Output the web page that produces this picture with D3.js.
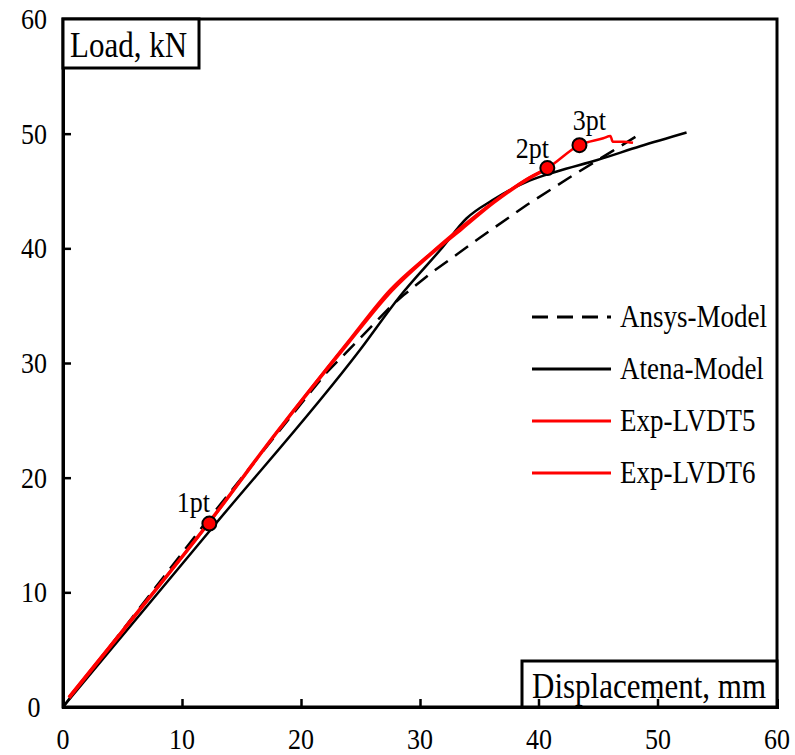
<!DOCTYPE html>
<html>
<head>
<meta charset="utf-8">
<script src="https://cdn.jsdelivr.net/npm/d3@7"></script>
<style>
  body { margin: 0; background: #fff; }
  svg text { font-family: "Liberation Serif", "DejaVu Serif", serif; fill: #000; }
</style>
</head>
<body>
<svg width="795" height="755"></svg>
<script>
// data
const xTicks = [0, 10, 20, 30, 40, 50, 60];
const yTicks = [0, 10, 20, 30, 40, 50, 60];

const ansysX = [0, 12, 22, 25, 27.5, 28.6, 31, 35, 39, 42.6, 46.2, 48.7];
const ansysY = [0, 16.1, 29.0, 32.2, 34.9, 35.9, 37.9, 40.9, 43.8, 46.2, 48.5, 50.1];

const atenaX = [0, 12.6, 25, 28.3, 31.9, 33.9, 36.1, 39.2, 41.5, 44.9, 48.5, 52.4];
const atenaY = [0, 15.7, 31.2, 35.8, 40.1, 42.6, 44.2, 45.9, 46.7, 47.7, 48.9, 50.1];

const lvdt5X = [0.5, 5, 12.2, 18, 24, 27.6, 30.9, 33.5, 36.2, 39.0, 41.2];
const lvdt5Y = [0.8, 6.6, 16.0, 24.0, 31.8, 36.3, 39.5, 41.7, 44.0, 46.0, 47.2];

const lvdt6X = [0.5, 5, 12.3, 18, 23.9, 27.5, 30.8, 33.4, 36.1, 39.2, 40.7, 43.4, 45.4, 46.0, 46.2, 47.1, 47.9];
const lvdt6Y = [0.9, 6.7, 16.1, 24, 31.8, 36.4, 39.5, 41.8, 44.0, 46.2, 47.0, 49.0, 49.6, 49.8, 49.3, 49.3, 49.2];

const ptX = [12.3, 40.7, 43.4];
const ptY = [16.0, 47.0, 49.0];
const ptLabels = ["1pt", "2pt", "3pt"];

const legendNames = ["Ansys-Model", "Atena-Model", "Exp-LVDT5", "Exp-LVDT6"];

const svg = d3.select("svg");

const x = d3.scaleLinear().domain([0, 60]).range([63, 777]);
const y = d3.scaleLinear().domain([0, 60]).range([707, 19]);

const zip = (xs, ys) => xs.map((v, i) => [v, ys[i]]);

// text helper: the source image is a bit taller than wide, so stretch glyphs vertically
function addText(parent, tx, ty, str, size, anchor) {
    return parent.append("text")
        .attr("transform", `translate(${tx}, ${ty}) scale(1, 1.15)`)
        .attr("text-anchor", anchor || "start")
        .attr("font-family", "Liberation Serif")
        .style("font-size", size + "px")
        .text(str);
}

// frame (top and right)
svg.append("rect")
    .attr("x", x(0)).attr("y", y(60))
    .attr("width", x(60) - x(0)).attr("height", y(0) - y(60))
    .attr("fill", "none").attr("stroke", "#000").attr("stroke-width", 3);

// axes with inward ticks
const xAxis = svg.append("g")
    .attr("transform", `translate(0, ${y(0)})`)
    .call(d3.axisTop(x).tickValues(xTicks.slice(1, -1)).tickSize(8).tickFormat(""));
const yAxis = svg.append("g")
    .attr("transform", `translate(${x(0)}, 0)`)
    .call(d3.axisRight(y).tickValues(yTicks.slice(1, -1)).tickSize(8).tickFormat(""));
[xAxis, yAxis].forEach(g => {
    g.select(".domain").attr("stroke", "#000").attr("stroke-width", 3);
    g.selectAll(".tick line").attr("stroke", "#000").attr("stroke-width", 2.5);
});

// tick labels
xTicks.forEach(d => addText(svg, x(d), 749, d, 26, "middle"));
yTicks.forEach(d => addText(svg, 34, y(d) + 10, d, 26, "middle"));

// curves
const line = d3.line().x(d => x(d[0])).y(d => y(d[1]));
const smooth = d3.line().x(d => x(d[0])).y(d => y(d[1])).curve(d3.curveMonotoneX);

svg.append("path").datum(zip(ansysX, ansysY))
    .attr("d", line).attr("fill", "none")
    .attr("stroke", "#000").attr("stroke-width", 2.5).attr("stroke-dasharray", "16,9");
svg.append("path").datum(zip(atenaX, atenaY))
    .attr("d", smooth).attr("fill", "none")
    .attr("stroke", "#000").attr("stroke-width", 2.5);
svg.append("path").datum(zip(lvdt5X, lvdt5Y))
    .attr("d", smooth).attr("fill", "none")
    .attr("stroke", "#ff0000").attr("stroke-width", 3.5);
svg.append("path").datum(zip(lvdt6X, lvdt6Y))
    .attr("d", smooth).attr("fill", "none")
    .attr("stroke", "#ff0000").attr("stroke-width", 2.5);

// marked points
svg.selectAll(".pt")
    .data(ptX).enter().append("circle")
    .attr("cx", d => x(d)).attr("cy", (d, i) => y(ptY[i]))
    .attr("r", 7).attr("fill", "#ff0000")
    .attr("stroke", "#000").attr("stroke-width", 2);

const labelOffset = [[-16, -12], [-15, -10], [10, -15]];
ptLabels.forEach((d, i) =>
    addText(svg, x(ptX[i]) + labelOffset[i][0], y(ptY[i]) + labelOffset[i][1], d, 26, "middle"));

// legend
const legend = svg.append("g").attr("transform", "translate(532, 317)");
legendNames.forEach((name, i) => {
    const row = legend.append("g").attr("transform", `translate(0, ${i * 52})`);
    row.append("line")
        .attr("x1", 0).attr("x2", 79).attr("y1", 0).attr("y2", 0)
        .attr("stroke", i < 2 ? "#000" : "#ff0000")
        .attr("stroke-width", 3)
        .attr("stroke-dasharray", i === 0 ? "16,9" : null);
    addText(row, 88, 10, name, 27);
});

// axis title boxes
svg.append("rect")
    .attr("x", 63).attr("y", 19).attr("width", 136).attr("height", 49)
    .attr("fill", "#fff").attr("stroke", "#000").attr("stroke-width", 3);
addText(svg, 70, 57, "Load, kN", 31);

svg.append("rect")
    .attr("x", 522).attr("y", 661).attr("width", 255).attr("height", 46)
    .attr("fill", "#fff").attr("stroke", "#000").attr("stroke-width", 3);
addText(svg, 532, 698, "Displacement, mm", 31);

// redraw the two x ticks that sit inside the title box
svg.selectAll(".boxtick")
    .data([40, 50]).enter().append("line")
    .attr("x1", d => x(d)).attr("x2", d => x(d))
    .attr("y1", y(0)).attr("y2", y(0) - 8)
    .attr("stroke", "#000").attr("stroke-width", 2.5);
</script>
</body>
</html>
